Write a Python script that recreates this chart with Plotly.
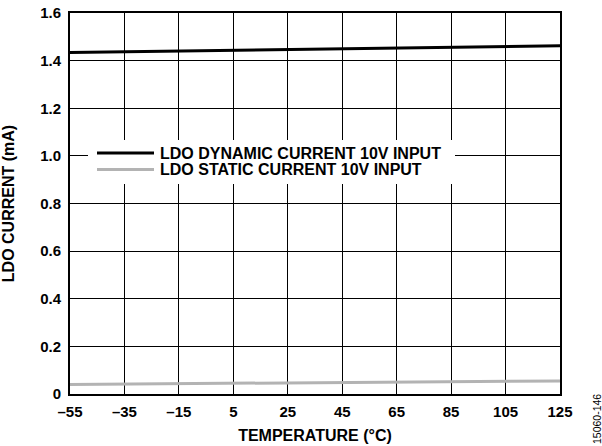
import plotly.graph_objects as go

temperature = [-55, -35, -15, 5, 25, 45, 65, 85, 105, 125]
dynamic_current = [1.434, 1.437, 1.440, 1.443, 1.446, 1.449, 1.452, 1.455, 1.458, 1.462]
static_current = [0.040, 0.042, 0.044, 0.045, 0.047, 0.048, 0.050, 0.051, 0.053, 0.055]
x_ticks = [-55, -35, -15, 5, 25, 45, 65, 85, 105, 125]
x_tick_labels = ["–55", "–35", "–15", "5", "25", "45", "65", "85", "105", "125"]
y_ticks = [0, 0.2, 0.4, 0.6, 0.8, 1.0, 1.2, 1.4, 1.6]
y_tick_labels = ["0", "0.2", "0.4", "0.6", "0.8", "1.0", "1.2", "1.4", "1.6"]
series_names = ["LDO DYNAMIC CURRENT 10V INPUT", "LDO STATIC CURRENT 10V INPUT"]
series_colors = ["#000000", "#b3b3b3"]

FONT = "Arial, 'Liberation Sans', sans-serif"

fig = go.Figure()
for name, ys, col in zip(series_names, [dynamic_current, static_current], series_colors):
    fig.add_trace(go.Scatter(x=temperature, y=ys, mode="lines", name=name,
                             line=dict(color=col, width=3), showlegend=False))

W, H = 602, 446
L, R, T, B = 70, 42, 13, 52
pw, ph = W - L - R, H - T - B

def px_to_paper_x(px):
    return (px - L) / pw

def px_to_paper_y(py):
    return (H - B - py) / ph

shapes = []
shapes.append(dict(type="rect", xref="paper", yref="paper",
                   x0=px_to_paper_x(88), x1=px_to_paper_x(455),
                   y0=px_to_paper_y(184), y1=px_to_paper_y(140),
                   fillcolor="white", line=dict(width=0), layer="above"))
annotations = []
rows = [153, 169.5]
for (name, col, ry) in zip(series_names, series_colors, rows):
    shapes.append(dict(type="line", xref="paper", yref="paper",
                       x0=px_to_paper_x(97), x1=px_to_paper_x(154),
                       y0=px_to_paper_y(ry), y1=px_to_paper_y(ry),
                       line=dict(color=col, width=3), layer="above"))
    annotations.append(dict(text="<b>" + name + "</b>", xref="paper", yref="paper",
                            x=px_to_paper_x(158), y=px_to_paper_y(ry),
                            xanchor="left", yanchor="middle", showarrow=False,
                            font=dict(family=FONT, size=16, color="black")))

annotations.append(dict(text="15060-146", xref="paper", yref="paper",
                        x=px_to_paper_x(597), y=px_to_paper_y(419),
                        xanchor="center", yanchor="middle", textangle=-90,
                        showarrow=False, font=dict(family=FONT, size=10.5, color="black")))

fig.update_layout(
    template="none",
    width=W, height=H,
    margin=dict(l=L, r=R, t=T, b=B, autoexpand=False),
    paper_bgcolor="white", plot_bgcolor="white",
    font=dict(family=FONT, size=15, color="black"),
    shapes=shapes, annotations=annotations,
    xaxis=dict(range=[-55, 125], tickvals=x_ticks,
               ticktext=["<b>" + t + "</b>" for t in x_tick_labels],
               showgrid=True, gridcolor="black", gridwidth=1,
               showline=True, linecolor="black", linewidth=2, mirror=True,
               ticks="", zeroline=False, automargin=False, ticklabelstandoff=3,
               ticklabeloverflow="allow",
               title=dict(text="<b>TEMPERATURE (°C)</b>", font=dict(size=16), standoff=11),
               tickfont=dict(size=15)),
    yaxis=dict(range=[0, 1.6], tickvals=y_ticks,
               ticktext=["<b>" + t + "</b>" for t in y_tick_labels],
               showgrid=True, gridcolor="black", gridwidth=1,
               showline=True, linecolor="black", linewidth=2, mirror=True,
               ticks="", zeroline=False, automargin=False, ticklabelstandoff=4,
               ticklabeloverflow="allow",
               title=dict(text="<b>LDO CURRENT (mA)</b>", font=dict(size=16), standoff=22),
               tickfont=dict(size=15)),
)

fig.write_html("out.html", config={"displayModeBar": False},
               post_script="document.body.style.margin='0';")
